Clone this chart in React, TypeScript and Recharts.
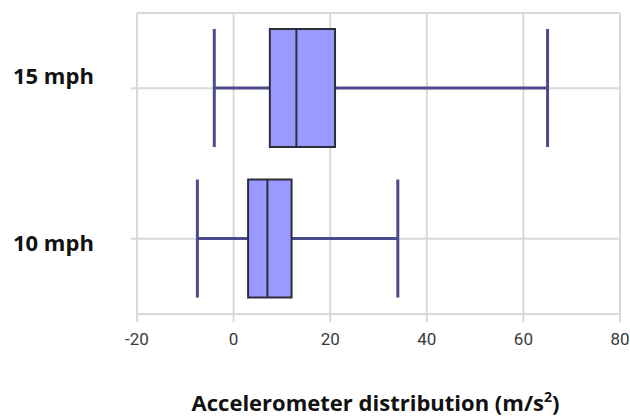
import React from 'react';
import { ComposedChart, Bar, XAxis, YAxis, CartesianGrid, Label } from 'recharts';

const categories = ['15 mph', '10 mph'];
const minValues = [-4, -7.5];
const q1Values = [7.5, 3];
const medianValues = [13, 7];
const q3Values = [21, 12];
const maxValues = [65, 34];
const xTicks = [-20, 0, 20, 40, 60, 80];
const xTitle = 'Accelerometer distribution (m/s';

const data = categories.map((name, i) => ({
  name,
  min: minValues[i],
  q1: q1Values[i],
  median: medianValues[i],
  q3: q3Values[i],
  max: maxValues[i],
  range: [minValues[i], maxValues[i]],
}));

const LABEL_DY = [-4, 12];
const WHISKER = '#4b4b8c';
const BOX_FILL = '#9999ff';
const BOX_STROKE = '#2e2e3a';
const GRID = '#d9d9d9';

const BoxShape = (props: any) => {
  const { x, y, width, height, payload } = props;
  if (payload == null) return null;
  const { min, q1, median, q3, max } = payload;
  const px = (v: number) => x + ((v - min) / (max - min)) * width;
  const cy = y + height / 2;
  return (
    <g>
      <line x1={px(min)} x2={px(q1)} y1={cy} y2={cy} stroke={WHISKER} strokeWidth={3} />
      <line x1={px(q3)} x2={px(max)} y1={cy} y2={cy} stroke={WHISKER} strokeWidth={3} />
      <line x1={px(min)} x2={px(min)} y1={y} y2={y + height} stroke={WHISKER} strokeWidth={3} />
      <line x1={px(max)} x2={px(max)} y1={y} y2={y + height} stroke={WHISKER} strokeWidth={3} />
      <rect x={px(q1)} y={y} width={px(q3) - px(q1)} height={height} fill={BOX_FILL} stroke={BOX_STROKE} strokeWidth={2} />
      <line x1={px(median)} x2={px(median)} y1={y} y2={y + height} stroke={BOX_STROKE} strokeWidth={2} />
    </g>
  );
};

const YTick = (props: any) => {
  const { y, payload, index } = props;
  return (
    <text x={13} y={y + (LABEL_DY[index] ?? 0)} textAnchor="start" fontFamily="'Open Sans', sans-serif" fontWeight={700} fontSize={22} fill="#111">
      {payload.value}
    </text>
  );
};

const XTick = (props: any) => {
  const { x, y, payload } = props;
  return (
    <text x={x} y={y} dy="0.71em" textAnchor="middle" fontFamily="Roboto, sans-serif" fontSize={17} fill="#3a3a3a">
      {payload.value}
    </text>
  );
};

const TitleLabel = (props: any) => {
  const vb = props.viewBox || {};
  return (
    <text x={vb.x + vb.width / 2 - 3} y={vb.y + 97} textAnchor="middle" fontFamily="'Open Sans', sans-serif" fontWeight={700} fontSize={22} fill="#111">
      {xTitle}
      <tspan fontSize={14} dy={-9}>2</tspan>
      <tspan dy={9}>)</tspan>
    </text>
  );
};

export default function App() {
  return (
    <div style={{ position: 'absolute', left: 0, top: 0, width: 630, height: 419, background: '#fff' }}>
      <ComposedChart
        width={630}
        height={419}
        data={data}
        layout="vertical"
        margin={{ top: 13, right: 10, bottom: 0, left: 0 }}
        barCategoryGap={0}
      >
        <CartesianGrid stroke={GRID} strokeWidth={2} />
        <XAxis
          xAxisId="top"
          orientation="top"
          type="number"
          domain={[-20, 80]}
          ticks={xTicks}
          tick={false}
          tickLine={false}
          height={0}
          axisLine={{ stroke: GRID, strokeWidth: 2 }}
        />
        <XAxis
          type="number"
          domain={[-20, 80]}
          ticks={xTicks}
          height={105}
          tickSize={8}
          tickMargin={11}
          tick={<XTick />}
          tickLine={{ stroke: GRID, strokeWidth: 2 }}
          axisLine={{ stroke: GRID, strokeWidth: 2 }}
        >
          <Label content={<TitleLabel />} />
        </XAxis>
        <YAxis
          type="category"
          dataKey="name"
          width={137}
          tickSize={6}
          tick={<YTick />}
          tickLine={{ stroke: GRID, strokeWidth: 2 }}
          axisLine={{ stroke: GRID, strokeWidth: 2 }}
        />
        <Bar dataKey="range" barSize={118} shape={<BoxShape />} isAnimationActive={false} />
      </ComposedChart>
    </div>
  );
}
